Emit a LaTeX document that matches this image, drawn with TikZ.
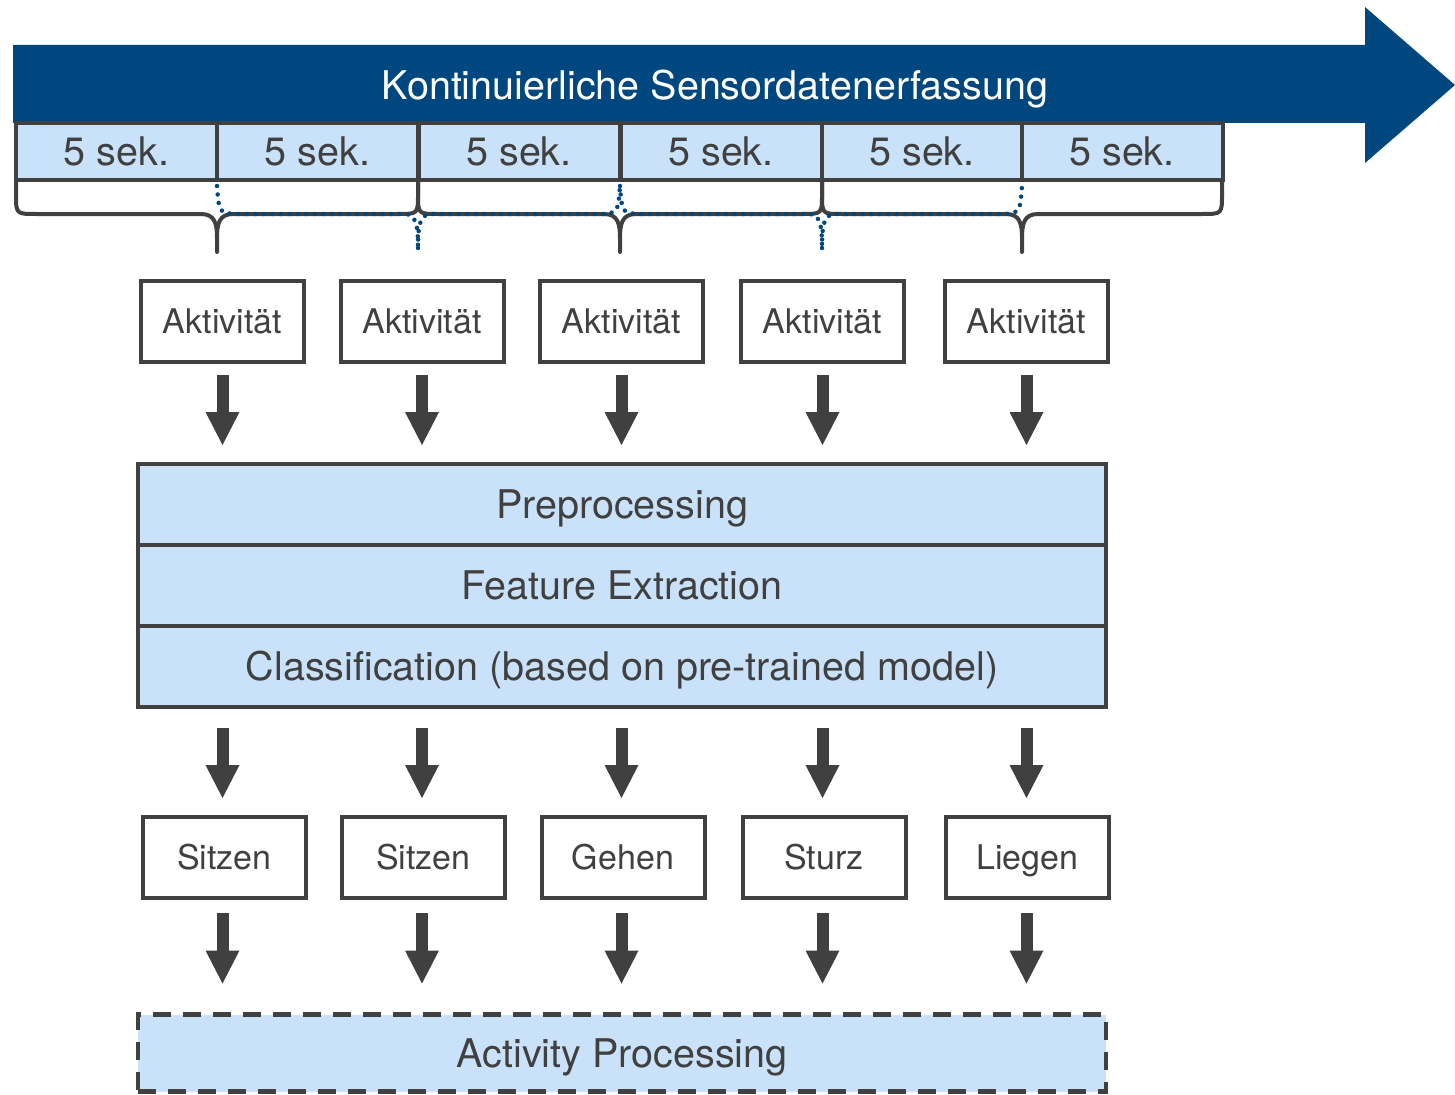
\documentclass[tikz,border=0pt]{standalone}
\usepackage{fontspec}
\setmainfont{TeX Gyre Heros}
\usetikzlibrary{arrows.meta,calc}
\definecolor{dblue}{HTML}{00477F}
\definecolor{lblue}{HTML}{C9E2F9}
\definecolor{dgrey}{HTML}{404040}
\tikzset{
 bigfont/.style={font=\fontsize{39.5}{47}\selectfont},
 smallfont/.style={font=\fontsize{34}{41}\selectfont},
 cell/.style={draw=dgrey, line width=4pt, fill=lblue, text=dgrey, minimum width=201pt, minimum height=57pt, inner sep=0pt, outer sep=0pt, text height=28pt, text depth=0pt, bigfont},
 actbox/.style={draw=dgrey, line width=4pt, fill=white, text=dgrey, minimum width=163pt, minimum height=81pt, inner sep=0pt, outer sep=0pt, smallfont, text height=24.4pt, text depth=0pt},
 stage/.style={draw=dgrey, line width=4pt, fill=lblue, text=dgrey, minimum width=968pt, minimum height=81pt, inner sep=0pt, outer sep=0pt, bigfont, text height=28pt, text depth=0pt},
 dashedstage/.style={stage, line width=4.5pt, dash pattern=on 18pt off 12pt, minimum height=77pt},
 flowarrow/.style={draw=dgrey, line width=12pt, -{Triangle[width=34pt,length=33pt,line width=0pt]}},
 bracesolid/.style={draw=dgrey, line width=4pt, line cap=round, line join=round},
 bracedot/.style={draw=dblue, line width=4.5pt, line cap=round, dash pattern=on 0pt off 8.5pt},
}
\begin{document}
\begin{tikzpicture}[x=1pt,y=-1pt]
\useasboundingbox (0,0) rectangle (1455,1094);
% timeline arrow
\fill[dblue] (13,45) -- (1365,45) -- (1365,7) -- (1455,85) -- (1365,163) -- (1365,123) -- (13,123) -- cycle;
\node[text=white, bigfont, anchor=base] (title) at (715,100) {Kontinuierliche Sensordatenerfassung};
% braces
\foreach \a/\m/\b in {16/217/418, 418/620/822, 822/1022/1222}{
 \draw[bracesolid] (\a,180) -- (\a,194) .. controls (\a,214) .. ({\a+20},214) -- ({\m-16},214) .. controls ({\m-2},214) and (\m,224) .. (\m,238) -- (\m,252);
 \draw[bracesolid] (\m,238) .. controls (\m,224) and ({\m+2},214) .. ({\m+16},214) -- ({\b-20},214) .. controls (\b,214) .. (\b,194) -- (\b,180);
}
\foreach \a/\m/\b in {217/418/620, 620/822/1022}{
 \draw[bracedot] (\a,186) .. controls ({\a+2},212) .. ({\a+16},214) -- ({\m-14},214) .. controls ({\m-2},214) and (\m,224) .. (\m,248);
 \draw[bracedot] (\m,248) .. controls (\m,224) and ({\m+2},214) .. ({\m+14},214) -- ({\b-16},214) .. controls ({\b-2},212) .. (\b,186);
}
% cells
\foreach \x [count=\i] in {116.5,317.5,519,721,922,1122}
 \node[cell] (c\i) at (\x,151.5) {5 sek.};
% activity boxes
\foreach \x [count=\i] in {222.5,422,621.5,822.5,1026.5}
 \node[actbox] (a\i) at (\x,321.5) {Aktivität};
% stages
\node[stage] (pre) at (622,504.5) {Preprocessing};
\node[stage] (fe) at (622,585.5) {Feature Extraction};
\node[stage] (cls) at (622,666.5) {Classification (based on pre-trained model)};
% results
\foreach \x/\t [count=\i] in {224.5/Sitzen,423.5/Sitzen,623/Gehen,824/Sturz,1027.5/Liegen}
 \node[actbox] (r\i) at (\x,857.5) {\t};
\node[dashedstage] (ap) at (622,1053) {Activity Processing};
% arrows
\foreach \i in {1,...,5}{
 \draw[flowarrow] ($(a\i.south)+(0pt,-13pt)$) -- ($(a\i.south |- pre.north)+(0pt,19pt)$);
 \draw[flowarrow] ($(a\i.south |- cls.south)+(0pt,-21pt)$) -- ($(a\i.south |- r\i.north)+(0pt,19pt)$);
 \draw[flowarrow] ($(a\i.south |- r\i.south)+(0pt,-15pt)$) -- ($(a\i.south |- ap.north)+(0pt,31pt)$);
}
\end{tikzpicture}
\end{document}
